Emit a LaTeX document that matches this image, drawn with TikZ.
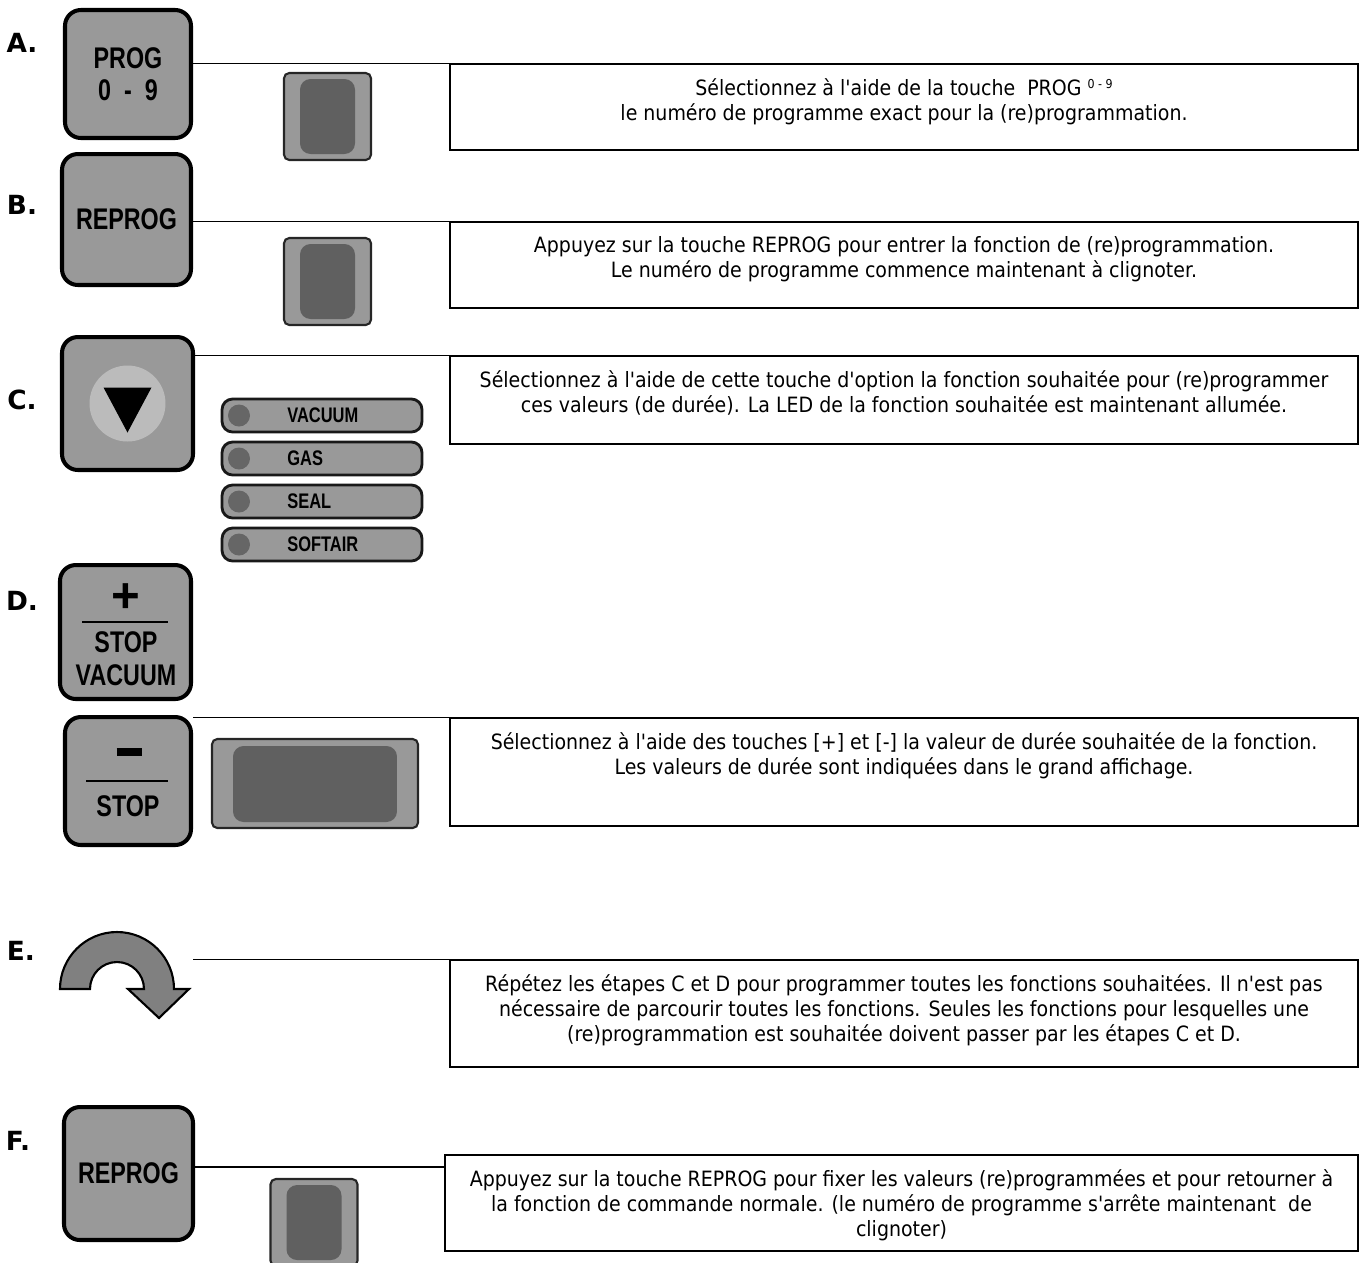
\documentclass[tikz,border=0pt]{standalone}
\usepackage{fontspec}
\setmainfont{DejaVu Sans}
\newfontfamily\boxfont[FakeStretch=0.9]{DejaVu Sans}
\newfontfamily\labelfont{DejaVu Sans}
\newfontfamily\keyfont[FakeStretch=0.78]{Liberation Sans Bold}
\newfontfamily\signfont{Liberation Sans Bold}
\usepackage{tikz}
\usetikzlibrary{positioning}
\definecolor{keygray}{HTML}{999999}
\definecolor{dialgray}{HTML}{BBBBBB}
\definecolor{lcdgray}{HTML}{606060}
\definecolor{lampgray}{HTML}{666666}
\definecolor{arrowgray}{HTML}{808080}
\begin{document}
\begin{tikzpicture}[x=0.02cm, y=0.02cm,
    keybox/.style={draw=black, line width=2.3pt, fill=keygray, rounded corners=9pt, inner sep=0pt, align=center, font=\keyfont\fontsize{17}{18}\selectfont},
    keytext/.style={inner sep=0pt, font=\keyfont\fontsize{17}{18}\selectfont},
    infobox/.style={draw=black, line width=1pt, inner sep=0pt, minimum width=18.16cm},
    infotext/.style={inner sep=0pt, align=center, font=\boxfont\fontsize{12}{14.2}\selectfont},
    steplabel/.style={inner sep=0pt, font=\labelfont\bfseries\fontsize{15}{18}\selectfont},
    lcd/.style={draw=black!85, line width=1.2pt, fill=keygray, rounded corners=3pt, inner sep=0pt},
    lcdinner/.style={fill=lcdgray, rounded corners=6pt, inner sep=0pt},
    ledbar/.style={draw=black!90, line width=1.6pt, fill=keygray, rounded corners=6pt, minimum width=4.0cm, minimum height=0.66cm, inner sep=0pt},
    ledlamp/.style={circle, fill=lampgray, minimum size=0.44cm, inner sep=0pt},
    ledtext/.style={inner sep=0pt, anchor=west, font=\keyfont\fontsize{12}{14}\selectfont},
    link/.style={line width=0.7pt}]
\useasboundingbox (0,0) rectangle (1364,-1262);

% step labels
\node[steplabel] (labA) at (22,-43) {A.};
\node[steplabel] (labB) at (22,-205) {B.};
\node[steplabel] (labC) at (22,-400) {C.};
\node[steplabel] (labD) at (22,-601) {D.};
\node[steplabel] (labE) at (21,-951) {E.};
\node[steplabel] (labF) at (18,-1141) {F.};

% A: program key
\node[keybox, minimum width=2.52cm, minimum height=2.56cm] (keyA) at (128,-74) {PROG\\0~~-~~9};
\node[lcd, minimum width=1.74cm, minimum height=1.74cm] (lcdA) at (327.5,-116.5) {};
\node[lcdinner, minimum width=1.1cm, minimum height=1.5cm] (lcdAin) at (lcdA) {};
\node[infobox, minimum height=1.72cm] (boxA) at (904,-107) {};
\node[infotext, below=0.3cm of boxA.north] (txtA) {S\'electionnez \`a l'aide de la touche \ PROG \raisebox{0.6ex}{\fontsize{7}{8}\selectfont 0 - 9}\\le num\'ero de programme exact pour la (re)programmation.};
\draw[link] (boxA.north west -| keyA.east) -- (boxA.north west);

% B: reprog key
\node[keybox, minimum width=2.58cm, minimum height=2.62cm] (keyB) at (126.5,-219.5) {REPROG};
\node[lcd, minimum width=1.74cm, minimum height=1.74cm] (lcdB) at (327.5,-281.5) {};
\node[lcdinner, minimum width=1.1cm, minimum height=1.5cm] (lcdBin) at (lcdB) {};
\node[infobox, minimum height=1.72cm] (boxB) at (904,-265) {};
\node[infotext, below=0.3cm of boxB.north] (txtB) {Appuyez sur la touche REPROG pour entrer la fonction de (re)programmation.\\Le num\'ero de programme commence maintenant \`a clignoter.};
\draw[link] (boxB.north west -| keyB.east) -- (boxB.north west);

% C: option key and function LEDs
\node[keybox, minimum width=2.62cm, minimum height=2.66cm] (keyC) at (127.5,-403.5) {};
\node[circle, fill=dialgray, minimum size=1.52cm, inner sep=0pt] (dial) at (keyC) {};
\fill[black] ([shift={(-24,16)}]dial.center) -- ([shift={(24,16)}]dial.center) -- ([shift={(0,-29)}]dial.center) -- cycle;
\foreach \fn [count=\i] in {VACUUM,GAS,SEAL,SOFTAIR} {
    \pgfmathsetmacro\ly{-415.5-43*(\i-1)}
    \node[ledbar] (led\i) at (322,\ly) {};
    \node[ledlamp] (lamp\i) at (239,\ly) {};
    \node[ledtext] (ledtxt\i) at (287,\ly) {\fn};
}
\node[infobox, minimum height=1.76cm] (boxC) at (904,-400) {};
\node[infotext, below=0.3cm of boxC.north] (txtC) {S\'electionnez \`a l'aide de cette touche d'option la fonction souhait\'ee pour (re)programmer\\ces valeurs (de dur\'ee). La LED de la fonction souhait\'ee est maintenant allum\'ee.};
\draw[link] (boxC.north west -| keyC.east) -- (boxC.north west);

% D: plus / minus keys and large display
\node[keybox, minimum width=2.62cm, minimum height=2.68cm] (keyPlus) at (125.5,-632) {};
\node[inner sep=0pt, font=\signfont\fontsize{28}{28}\selectfont] (plus) at (126,-598) {+};
\draw[line width=1.6pt] (82,-622) -- (168,-622);
\node[keytext] (stopV) at (126,-642) {STOP};
\node[keytext] (vacV) at (126,-675) {VACUUM};
\node[keybox, minimum width=2.52cm, minimum height=2.56cm] (keyMinus) at (128,-781) {};
\node[inner sep=0pt] (minus) at (129,-752) {\rule{0.5cm}{0.16cm}};
\draw[line width=1.6pt] (86,-781) -- (168,-781);
\node[keytext] (stopM) at (128,-806) {STOP};
\node[lcd, minimum width=4.12cm, minimum height=1.78cm] (lcdD) at (315,-783.5) {};
\node[lcdinner, minimum width=3.28cm, minimum height=1.52cm] (lcdDin) at (315,-784) {};
\node[infobox, minimum height=2.16cm] (boxD) at (904,-772) {};
\node[infotext, below=0.3cm of boxD.north] (txtD) {S\'electionnez \`a l'aide des touches [+] et [-] la valeur de dur\'ee souhait\'ee de la fonction.\\Les valeurs de dur\'ee sont indiqu\'ees dans le grand affichage.};
\draw[link] (boxD.north west -| keyMinus.east) -- (boxD.north west);

% E: repeat arrow
\draw[line width=1.2pt, fill=arrowgray] (60,-989) arc[start angle=180, end angle=0, radius=57] -- (189,-989) -- (159,-1018) -- (128,-989) -- (144,-989) arc[start angle=0, end angle=180, radius=27] -- cycle;
\coordinate (arrE) at (193,-960);
\node[infobox, minimum height=2.14cm] (boxE) at (904,-1013.5) {};
\node[infotext, below=0.3cm of boxE.north] (txtE) {R\'ep\'etez les \'etapes C et D pour programmer toutes les fonctions souhait\'ees. Il n'est pas\\n\'ecessaire de parcourir toutes les fonctions. Seules les fonctions pour lesquelles une\\(re)programmation est souhait\'ee doivent passer par les \'etapes C et D.};
\draw[link] (boxE.north west -| arrE) -- (boxE.north west);

% F: reprog key again
\node[keybox, minimum width=2.58cm, minimum height=2.66cm] (keyF) at (128.5,-1173.5) {REPROG};
\node[lcd, minimum width=1.74cm, minimum height=1.74cm] (lcdF) at (314,-1222.5) {};
\node[lcdinner, minimum width=1.1cm, minimum height=1.5cm] (lcdFin) at (lcdF) {};
\node[infobox, minimum width=18.26cm, minimum height=1.92cm] (boxF) at (901.5,-1203) {};
\node[infotext, below=0.3cm of boxF.north] (txtF) {Appuyez sur la touche REPROG pour fixer les valeurs (re)programm\'ees et pour retourner \`a\\la fonction de commande normale. (le num\'ero de programme s'arr\^ete maintenant \ de\\clignoter)};
\draw[link] ([yshift=0.13cm]keyF.east) -- ([yshift=0.13cm]keyF.east -| boxF.west);
\end{tikzpicture}
\end{document}
